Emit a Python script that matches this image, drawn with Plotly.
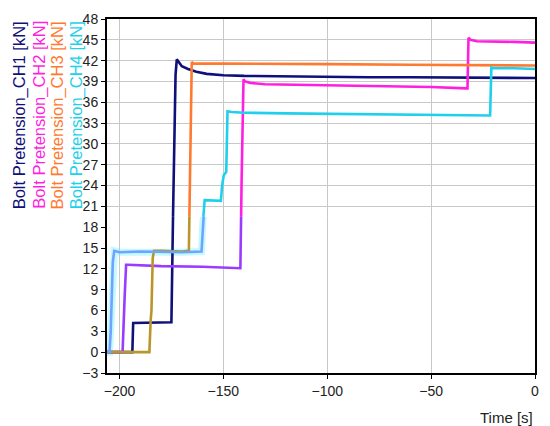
import plotly.graph_objects as go

# time [s] and bolt pretension [kN]
ch1_t = [-206, -193.8, -193.4, -175.0, -174.2, -173.0, -172.4, -171.5, -170, -167, -163, -158, -150, -140, -120, -100, -80, -60, -40, -20, 0]
ch1_v = [0, 0, 4.2, 4.3, 20, 40, 42.2, 41.8, 41.2, 40.8, 40.4, 40.1, 39.9, 39.8, 39.7, 39.7, 39.6, 39.6, 39.6, 39.5, 39.5]

ch2_t = [-206, -198.5, -197.5, -196.8, -196, -180, -160, -141.8, -141.2, -140.3, -139.5, -137, -130, -110, -80, -50, -33, -32.5, -32.0, -31, -28, -20, -10, 0]
ch2_v = [0, 0, 8, 12.6, 12.6, 12.4, 12.3, 12.1, 25, 39.3, 39.0, 38.8, 38.6, 38.5, 38.3, 38.2, 38.0, 38.0, 45.3, 45.0, 44.8, 44.8, 44.7, 44.6]

ch3_t = [-206, -185.6, -185.0, -184.6, -184.0, -183.4, -180, -175, -170, -166.6, -166.0, -165.2, -164.5, -160, -140, -100, -60, -20, 0]
ch3_v = [0, 0, 4.5, 6, 13.5, 14.6, 14.6, 14.5, 14.5, 14.6, 30, 41.8, 41.6, 41.6, 41.5, 41.5, 41.4, 41.4, 41.3]

ch4_t = [-206, -204.8, -204.2, -203.2, -202.5, -200, -190, -180, -170, -160.5, -160.0, -159.0, -155, -151.2, -150.6, -149.8, -148.6, -148.0, -146, -140, -120, -80, -40, -22.0, -21.6, -21.0, -20, -10, 0]
ch4_v = [0, 0, 3, 13, 14.6, 14.4, 14.5, 14.4, 14.4, 14.5, 18, 21.9, 21.8, 21.8, 24, 25.5, 26, 34.7, 34.6, 34.5, 34.4, 34.3, 34.2, 34.1, 34.1, 41.0, 40.9, 40.9, 40.8]

names = ["Bolt Pretension_CH1 [kN]", "Bolt Pretension_CH2 [kN]", "Bolt Pretension_CH3 [kN]", "Bolt Pretension_CH4 [kN]"]
colors = ["#10107a", "#ff1fe0", "#ff7a30", "#1fd0ec"]
# the lower part of the picture is tinted differently
low_colors = ["#10107a", "#9a3cff", "#b8962a", "#72a2ff"]
low_limit = 19.5

# faint pink patches (t0, t1, v0, v1)
patches = [(-189, -181, -0.9, 11.7), (-172.5, -159, 13.8, 19.5), (-144, -135, 11.7, 19.5), (-204, -193, -1, 1)]

series = [(ch1_t, ch1_v), (ch2_t, ch2_v), (ch3_t, ch3_v), (ch4_t, ch4_v)]

fig = go.Figure()
for i, (t, v) in enumerate(series):
    fig.add_trace(go.Scatter(x=t, y=v, mode="lines", name=names[i],
                             line=dict(color=colors[i], width=2.6), showlegend=False))
# cyan glow on the low part of CH4
fig.add_trace(go.Scatter(x=ch4_t, y=ch4_v, mode="lines", yaxis="y2", showlegend=False,
                         line=dict(color="rgba(80,240,255,0.35)", width=7)))
for i, (t, v) in enumerate(series):
    fig.add_trace(go.Scatter(x=t, y=v, mode="lines", yaxis="y2", showlegend=False,
                             line=dict(color=low_colors[i], width=2.6)))

for (a, b, c, d) in patches:
    fig.add_shape(type="rect", x0=a, x1=b, y0=c, y1=d, xref="x", yref="y",
                  fillcolor="rgba(255,120,220,0.10)", line_width=0, layer="below")

y_lo, y_hi = -3, 48
fig.update_layout(
    width=550, height=426,
    margin=dict(l=107, r=11, t=15, b=53),
    plot_bgcolor="white", paper_bgcolor="white",
    font=dict(family="Liberation Sans, Arial", size=14, color="#222"),
    xaxis=dict(range=[-206, 0], tickvals=[-200, -150, -100, -50, 0],
               ticktext=["\u2212200", "\u2212150", "\u2212100", "\u221250", "0"],
               showgrid=True, gridcolor="#c8c8c8", gridwidth=1.2,
               showline=True, linecolor="black", linewidth=2, mirror=True,
               ticks="outside", ticklen=4, tickcolor="black", zeroline=False),
    yaxis=dict(range=[y_lo, y_hi], dtick=3, tick0=0,
               showgrid=True, gridcolor="#c8c8c8", gridwidth=1.2,
               showline=True, linecolor="black", linewidth=2, mirror=True,
               ticks="outside", ticklen=4, tickcolor="black", zeroline=False),
    yaxis2=dict(domain=[0, (low_limit - y_lo) / (y_hi - y_lo)], range=[y_lo, low_limit],
                visible=False, anchor="x", showgrid=False, zeroline=False),
)

col_x = [18.5, 38, 57, 76]
for i in range(4):
    fig.add_annotation(text=names[i], textangle=-90, xref="paper", yref="paper",
                       x=(col_x[i] - 107) / 432, y=1.0, xanchor="center", yanchor="top",
                       showarrow=False, font=dict(size=16.5, color=colors[i], family="Liberation Sans, Arial"))

fig.add_annotation(text="Time [s]", xref="paper", yref="paper", x=1.0, y=-0.126,
                   xanchor="right", yanchor="middle", showarrow=False,
                   font=dict(size=15, color="#222"))

fig.write_html("out.html", config={"displayModeBar": False},
               post_script="document.body.style.margin='0';")
